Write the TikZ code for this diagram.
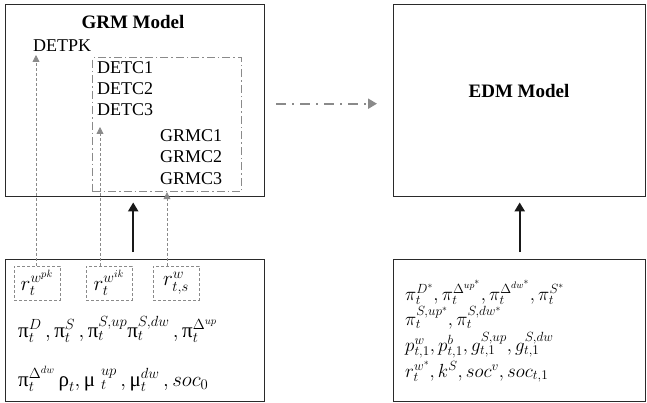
\documentclass[tikz,border=0pt]{standalone}
\usepackage{fix-cm}
\usepackage{fontspec}
\setmainfont{Liberation Serif}
\newfontfamily\grk{Liberation Serif}
\usetikzlibrary{arrows.meta,calc}
\newcommand{\upi}{\mbox{\grk π}}
\newcommand{\urho}{\mbox{\grk ρ}}
\newcommand{\umu}{\mbox{\grk μ}}
\definecolor{frame}{HTML}{2A2A2A}
\definecolor{grayline}{HTML}{8A8A8A}
\tikzset{
  mainbox/.style={draw=frame,line width=1.4pt,inner sep=0pt,anchor=north west},
  dashdotbox/.style={draw=grayline,line width=1.2pt,dash pattern=on 8pt off 3pt on 1.5pt off 3pt,inner sep=0pt,anchor=north west},
  smallbox/.style={draw=grayline,line width=0.8pt,dash pattern=on 3pt off 2pt,minimum width=46pt,minimum height=34pt,inner sep=0pt},
  label/.style={font=\fontsize{18}{21}\selectfont,anchor=base west,inner sep=0pt},
  title/.style={font=\fontsize{19}{22}\selectfont\bfseries,anchor=base,inner sep=0pt},
  mathL/.style={font=\fontsize{21}{25}\selectfont,anchor=base west,inner sep=0pt},
  mathR/.style={font=\fontsize{19}{23}\selectfont,anchor=base west,inner sep=0pt},
  grayarrow/.style={draw=grayline,line width=0.8pt,dash pattern=on 3pt off 2pt,-{Triangle[length=7pt,width=7pt]}},
  blackarrow/.style={draw=black!90,line width=2.2pt,-{Triangle[length=9pt,width=10pt]}},
  dasharrow/.style={draw=grayline,line width=2pt,dash pattern=on 10pt off 6pt on 2pt off 6pt,-{Triangle[length=9pt,width=10pt]}}
}
\begin{document}
\begin{tikzpicture}[x=1pt,y=-1pt]
\useasboundingbox (0,0) rectangle (647,403);
% main boxes
\node[mainbox,minimum width=259pt,minimum height=192pt] (grm) at (5,4) {};
\node[mainbox,minimum width=252pt,minimum height=192pt] (edm) at (393,4) {};
\node[mainbox,minimum width=259pt,minimum height=142pt] (inL) at (5,259) {};
\node[mainbox,minimum width=252pt,minimum height=142pt] (inR) at (393,259) {};
\node[dashdotbox,minimum width=149pt,minimum height=134pt] (inner) at (92,57) {};
% titles
\node[title] (grmt) at (133,29) {GRM Model};
\node[title] (edmt) at (519,98) {EDM Model};
% GRM labels
\node[label] (detpk) at (33,52) {DETPK};
\node[label] (detc1) at (97,74) {DETC1};
\node[label] (detc2) at (97,95) {DETC2};
\node[label] (detc3) at (97,116) {DETC3};
\node[label] (grmc1) at (160,142) {GRMC1};
\node[label] (grmc2) at (160,163) {GRMC2};
\node[label] (grmc3) at (160,185) {GRMC3};
% small boxes
\node[smallbox,font=\fontsize{21}{25}\selectfont] (r1) at (37,283) {$r_t^{w^{pk}}$};
\node[smallbox,font=\fontsize{21}{25}\selectfont] (r2) at (109,283) {$r_t^{w^{ik}}$};
\node[smallbox,font=\fontsize{21}{25}\selectfont] (r3) at (176,283) {$r_{t,s}^{w}$};
% left input text
\node[mathL] (l2) at (18,337) {$\upi_t^D\,, \upi_t^S\,, \upi_t^{S,up}\upi_t^{S,dw}\,, \upi_t^{\Delta^{up}}$};
\node[mathL] (l3) at (18,386) {$\upi_t^{\Delta^{dw}}\,\urho_t, \umu\;{}_t^{up}\,, \umu_t^{dw}\,, soc_0$};
% right input text
\node[mathR] (r1l) at (405,300) {$\pi_t^{D^*}, \pi_t^{\Delta^{up^*}}, \pi_t^{\Delta^{dw^*}}, \pi_t^{S^*}$};
\node[mathR] (r2l) at (405,325) {$\pi_t^{S,up^*}, \pi_t^{S,dw^*}$};
\node[mathR] (r3l) at (405,351) {$p_{t,1}^w, p_{t,1}^b, g_{t,1}^{S,up}, g_{t,1}^{S,dw}$};
\node[mathR] (r4l) at (405,377) {$r_t^{w^*}, k^S, soc^v, soc_{t,1}$};
% connectors
\coordinate (a1s) at ($(r1.north)+(-1,0)$);
\coordinate (a2s) at ($(r2.north)+(-9,0)$);
\coordinate (a3s) at ($(r3.north)+(-9,0)$);
\draw[grayarrow] (a1s) -- (a1s |- 0,55);
\draw[grayarrow] (a2s) -- (a2s |- 0,127);
\draw[grayarrow] (a3s) -- (a3s |- inner.south);
\draw[blackarrow] ($(inL.north)+(-2,-7)$) -- ($(grm.south)+(-2,5)$);
\draw[blackarrow] ($(inR.north)+(0,-7)$) -- ($(edm.south)+(0,5)$);
\draw[dasharrow] ($(grm.east)+(11,3)$) -- ($(edm.west)+(-16,3)$);
\end{tikzpicture}
\end{document}
